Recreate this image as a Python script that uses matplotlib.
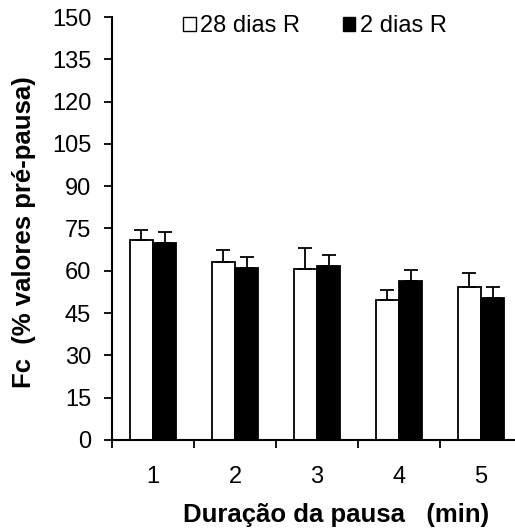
import numpy as np
import matplotlib
matplotlib.use("Agg")
import matplotlib.pyplot as plt
from matplotlib.patches import Patch

plt.rcParams['font.family'] = ['Liberation Sans', 'DejaVu Sans']

# Pause duration (min) and heart rate as % of pre-pause values
pausas = [1, 2, 3, 4, 5]
fc_28d = [70.9, 63.2, 60.8, 49.5, 54.4]
err_28d = [3.6, 4.2, 7.2, 3.7, 4.7]
fc_2d = [70.0, 60.9, 61.6, 56.3, 50.5]
err_2d = [3.8, 4.1, 4.0, 4.0, 3.9]
yticks = np.arange(0, 151, 15)

fig = plt.figure(figsize=(5.15, 5.32), dpi=100)
ax = fig.add_axes([112/515, 92/532, 410/515, 423/532])

x = np.array(pausas, dtype=float)
w = 0.285
ax.bar(x - w/2, fc_28d, w, color='white', edgecolor='black', linewidth=1.3,
       yerr=[np.zeros(5), err_28d], error_kw=dict(ecolor='black', elinewidth=1.3, capsize=5, capthick=1.3))
ax.bar(x + w/2, fc_2d, w, color='black', edgecolor='black', linewidth=1.3,
       yerr=[np.zeros(5), err_2d], error_kw=dict(ecolor='black', elinewidth=1.3, capsize=5, capthick=1.3))

ax.set_xlim(0.5, 5.5)
ax.set_ylim(0, 150)
ax.set_yticks(yticks)

# tick marks between groups, labels at the group centres
ax.set_xticks(np.arange(0.5, 5.0, 1.0))
ax.set_xticklabels([])
ax.set_xticks(x, minor=True)
ax.set_xticklabels([str(p) for p in pausas], minor=True)
ax.tick_params(axis='x', which='major', direction='out', length=6, width=1.3)
ax.tick_params(axis='x', which='minor', length=0, pad=19, labelsize=17)
ax.tick_params(axis='y', direction='out', length=6, width=1.3, pad=9, labelsize=17)

for s in ['top', 'right']:
    ax.spines[s].set_visible(False)
for s in ['left', 'bottom']:
    ax.spines[s].set_linewidth(1.5)

fig.text(336/515, 1 - 515/532, 'Duração da pausa   (min)', fontsize=18.5, fontweight='bold',
         ha='center', va='center')
fig.text(24/515, 1 - 232/532, 'Fc  (% valores pré-pausa)', fontsize=18.5, fontweight='bold',
         ha='center', va='center', rotation=90)

handles = [Patch(facecolor='white', edgecolor='black', label='28 dias R'),
           Patch(facecolor='black', edgecolor='black', label='2 dias R')]
fig.legend(handles=handles, loc='center left', bbox_to_anchor=(183/515, 1 - 26/532), ncol=2,
           frameon=False, fontsize=17, handlelength=0.55, handleheight=0.55,
           handletextpad=0.17, columnspacing=1.8, borderpad=0, borderaxespad=0)

fig.savefig('out.png', dpi=100)
